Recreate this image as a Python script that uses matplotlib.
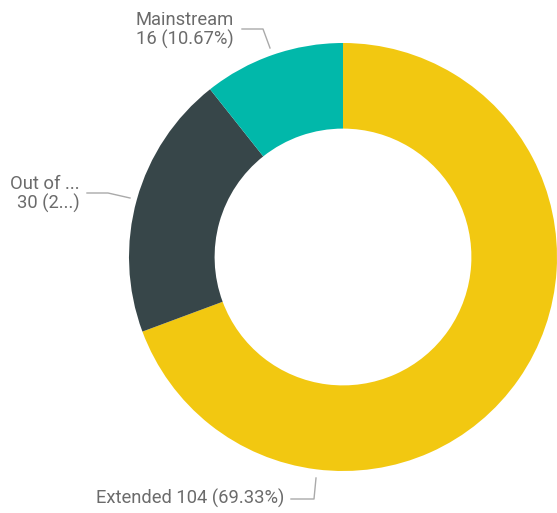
import matplotlib.pyplot as plt

labels = ["Extended", "Out of ...", "Mainstream"]
values = [104, 30, 16]
label_texts = ["Extended 104 (69.33%)", "Out of ...\n30 (2...)", "Mainstream\n16 (10.67%)"]
colors = ["#F2C811", "#374649", "#01B8AA"]

W, H = 557, 513
fig = plt.figure(figsize=(W / 100, H / 100), dpi=100)
ax = fig.add_axes([0, 0, 1, 1])

# donut, starting at 12 o'clock and going clockwise
radius = 214
ax.pie(values, colors=colors, radius=radius, center=(343, H - 257),
       startangle=90, counterclock=False,
       wedgeprops=dict(width=radius * 0.4, linewidth=0))

ax.set_xlim(0, W)
ax.set_ylim(0, H)
ax.set_aspect("equal")
ax.axis("off")

txt = dict(color="#6b6b6b", fontsize=13.2, family="Roboto", linespacing=1.05)
line = dict(color="#AAAAAA", lw=1)

# Mainstream
ax.text(234, H - 30, label_texts[2], ha="right", va="center", **txt)
ax.plot([242, 263, 270], [H - 29, H - 29, H - 48], **line)

# Out of ...
ax.text(80, H - 194, label_texts[1], ha="right", va="center", **txt)
ax.plot([87, 108, 130], [H - 193, H - 193, H - 198], **line)

# Extended
ax.text(284, H - 498, label_texts[0], ha="right", va="center", **txt)
ax.plot([291, 314, 316], [H - 499, H - 499, H - 478], **line)

plt.savefig("out.png", dpi=100)
